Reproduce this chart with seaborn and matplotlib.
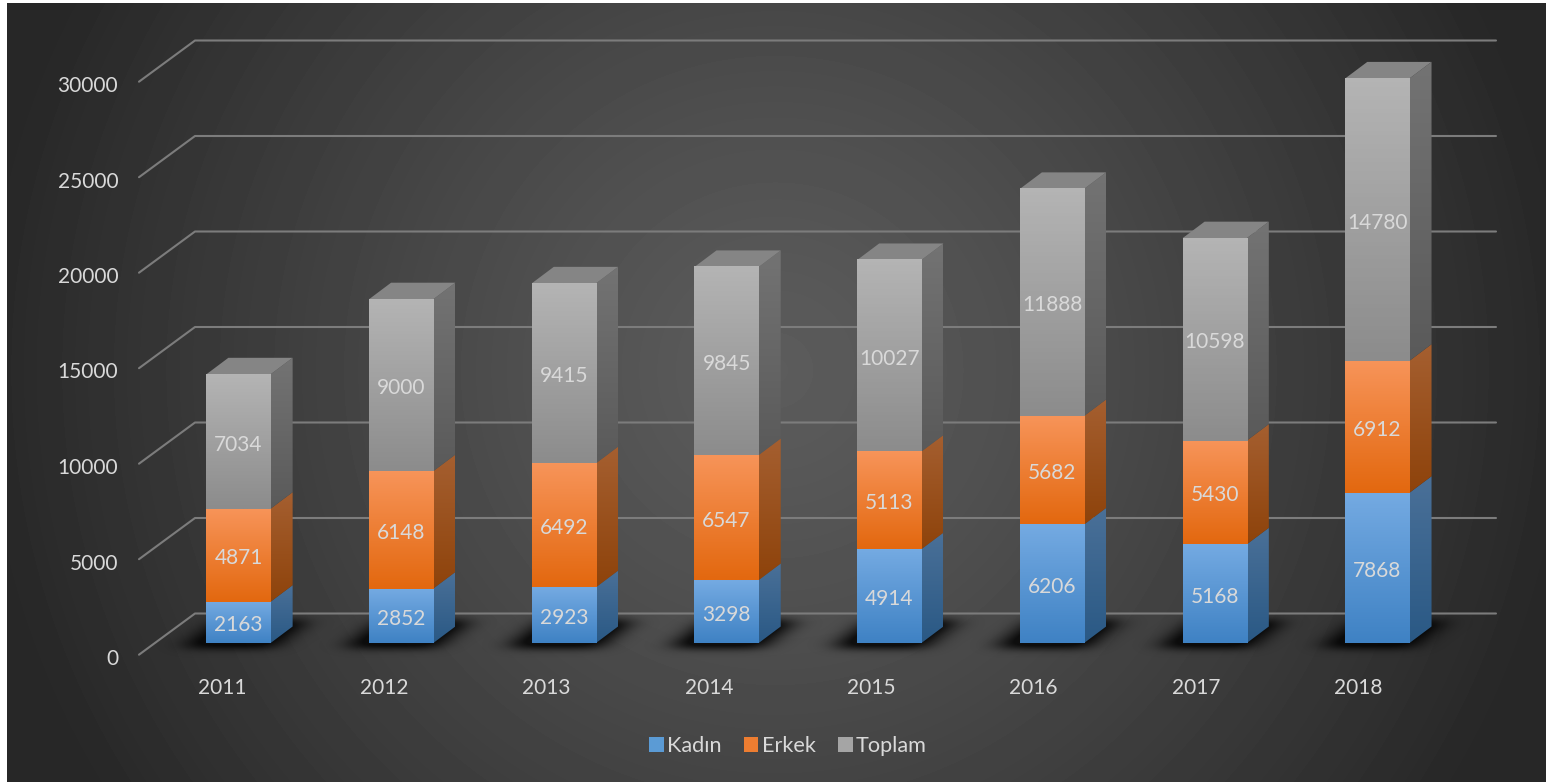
import numpy as np
import seaborn as sns
import matplotlib.pyplot as plt
from matplotlib.patches import Patch, Polygon
from matplotlib.path import Path
from matplotlib.transforms import ScaledTranslation
from matplotlib.colors import LinearSegmentedColormap

years = ['2011', '2012', '2013', '2014', '2015', '2016', '2017', '2018']
kadin = [2163, 2852, 2923, 3298, 4914, 6206, 5168, 7868]
erkek = [4871, 6148, 6492, 6547, 5113, 5682, 5430, 6912]
toplam = [7034, 9000, 9415, 9845, 10027, 11888, 10598, 14780]
series_names = ['Kadın', 'Erkek', 'Toplam']
y_ticks = [0, 5000, 10000, 15000, 20000, 25000, 30000]

W, H = 1546, 782
DX, DY = 22, 16.5
front_colors = {'Kadın': ['#74aae2', '#3f82c4'], 'Erkek': ['#f79459', '#e3680f'], 'Toplam': ['#b4b4b4', '#8c8c8c']}
side_colors = {'Kadın': ['#4a7098', '#2a5985'], 'Erkek': ['#a55f30', '#8e430b'], 'Toplam': ['#737373', '#5a5a5a']}
legend_colors = {'Kadın': '#5b9bd5', 'Erkek': '#ed7d31', 'Toplam': '#a5a5a5'}

sns.set_theme(style='white')
plt.rcParams['font.family'] = ['Lato', 'DejaVu Sans']
fig = plt.figure(figsize=(W / 100, H / 100), dpi=100, facecolor='white')

# backdrop in pixel coordinates (grid lines, shadows, 3d faces)
bg = fig.add_axes([0, 0, 1, 1], zorder=0)
bg.set_xlim(0, W)
bg.set_ylim(H, 0)
bg.axis('off')
xx, yy = np.meshgrid(np.arange(7, W), np.arange(3, H))
r = np.hypot(xx - 775, yy - 370) / 800
shade = 0x5c - (0x5c - 0x27) * np.clip(r, 0, 1) ** 1.2
bg.imshow(shade / 255, cmap='gray', vmin=0, vmax=1, extent=(7, W, H, 3), aspect='auto', zorder=0)

# bars
ax = fig.add_axes([157.15 / W, (H - 643) / H, 1301.6 / W, 613 / H], zorder=1)
ax.patch.set_alpha(0)
bottoms = np.zeros(len(years))
segments = []
for name, vals in zip(series_names, [kadin, erkek, toplam]):
    n0 = len(ax.patches)
    sns.barplot(x=years, y=vals, bottom=bottoms, color=legend_colors[name], width=0.395, saturation=1, ax=ax)
    segments.append((name, vals, ax.patches[n0:]))
    bottoms = bottoms + np.array(vals)
ax.set_xlim(-0.5, 7.5)
ax.set_ylim(0, 613 / 0.0191)
sns.despine(ax=ax, left=True, bottom=True)
ax.set_xlabel('')
ax.set_ylabel('')
ax.set_yticks(y_ticks)
ax.tick_params(axis='y', length=0, pad=28, labelsize=15, labelcolor='#d9d9d9')
ax.tick_params(axis='x', length=0, pad=25.5, labelsize=15, labelcolor='#d9d9d9')
for lab in ax.get_yticklabels():
    lab.set_transform(lab.get_transform() + ScaledTranslation(0, -0.14, fig.dpi_scale_trans))
for i, lab in enumerate(ax.get_xticklabels()):
    lab.set_transform(lab.get_transform() + ScaledTranslation(-(16.5 + 0.4 * i) / 100, 0, fig.dpi_scale_trans))
fig.canvas.draw()


def to_px(x, y):
    px, py = ax.transData.transform((x, y))
    return px, H - py


def gradient(colors):
    return LinearSegmentedColormap.from_list('g', colors)(np.linspace(0, 1, 64))[:, None, :]


# grid lines: back wall plus left wall
for v in y_ticks:
    py = to_px(0, v)[1]
    bg.plot([139, 195, 1496], [py + 11.7, py - 29.5, py - 29.5], color='#7c7c7c', lw=1.5, zorder=2,
            solid_capstyle='round')

# floor shadows, blurred
grid_x, grid_y = np.meshgrid(np.arange(W), np.arange(H))
pts = np.column_stack([grid_x.ravel(), grid_y.ravel()])
mask = np.zeros(W * H, dtype=bool)
for p in segments[0][2]:
    left = to_px(p.get_x(), 0)[0]
    right = to_px(p.get_x() + p.get_width(), 0)[0]
    base = to_px(0, 0)[1]
    outline = [(left - 24, base + 4), (right + 2, base + 4), (right + 38, base - 24), (left + 12, base - 24)]
    mask |= Path(outline).contains_points(pts)
mask = mask.reshape(H, W).astype(float)
kernel = np.exp(-np.arange(-36, 37) ** 2 / (2 * 12.0 ** 2))
kernel /= kernel.sum()
row_kernel = np.exp(-np.arange(-12, 13) ** 2 / (2 * 4.0 ** 2))
row_kernel /= row_kernel.sum()
for row in range(590, 680):
    mask[row] = np.convolve(mask[row], kernel, mode='same')
for col in range(W):
    mask[:, col] = np.convolve(mask[:, col], row_kernel, mode='same')
rgba = np.zeros((H, W, 4))
rgba[..., 3] = np.clip(mask * 1.1, 0, 0.8)
bg.imshow(rgba, extent=(0, W, H, 0), aspect='auto', zorder=1)

# faces of each stack segment
for name, vals, patches in segments:
    for p in patches:
        x0, x1 = p.get_x(), p.get_x() + p.get_width()
        y0, y1 = p.get_y(), p.get_y() + p.get_height()
        xr, ptop = to_px(x1, y1)
        pbot = to_px(x1, y0)[1]
        side = Polygon([(xr, ptop), (xr + DX, ptop - DY), (xr + DX, pbot - DY), (xr, pbot)],
                       transform=bg.transData, facecolor='none', edgecolor='none')
        bg.add_patch(side)
        im = bg.imshow(gradient(side_colors[name]), extent=(xr, xr + DX, pbot, ptop - DY), aspect='auto', zorder=3)
        im.set_clip_path(side)
        ax.imshow(gradient(front_colors[name]), extent=(x0, x1, y0, y1), aspect='auto', zorder=3)
        p.set_facecolor('none')
        p.set_edgecolor('none')
        ax.annotate(str(int(round(y1 - y0))), ((x0 + x1) / 2, (y0 + y1) / 2), xytext=(0, -2.2),
                    textcoords='offset points', ha='center', va='center', color='#d9d9d9', fontsize=15, zorder=5)

# tops of the columns
for p in segments[-1][2]:
    xl, ptop = to_px(p.get_x(), p.get_y() + p.get_height())
    xr = to_px(p.get_x() + p.get_width(), 0)[0]
    bg.add_patch(Polygon([(xl, ptop), (xr, ptop), (xr + DX, ptop - DY), (xl + DX, ptop - DY)],
                         facecolor='#858585', edgecolor='none', zorder=3))

bg.set_xlim(0, W)
bg.set_ylim(H, 0)
ax.set_xlim(-0.5, 7.5)
ax.set_ylim(0, 613 / 0.0191)

handles = [Patch(facecolor=legend_colors[n], edgecolor='none') for n in series_names]
fig.legend(handles, series_names, loc='center', bbox_to_anchor=(788 / W, (H - 746) / H), ncol=3, frameon=False,
           fontsize=15.6, labelcolor='#d9d9d9', handlelength=0.66, handleheight=0.66, handletextpad=0.15,
           columnspacing=1.05)

fig.savefig('out.png', dpi=100, facecolor='white')
